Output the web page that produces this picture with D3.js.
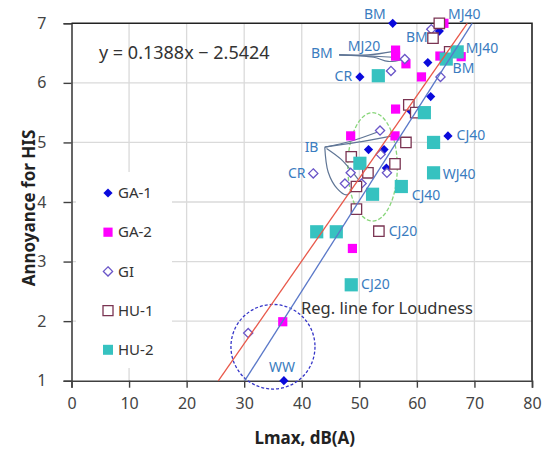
<!DOCTYPE html>
<html>
<head>
<meta charset="utf-8">
<script src="https://cdn.jsdelivr.net/npm/d3@7"></script>
<style>
  body { margin: 0; background: #ffffff; }
  svg { font-family: "Noto Sans", "DejaVu Sans", sans-serif; }
</style>
</head>
<body>
<svg id="chart" width="546" height="451"></svg>
<script>
// ---- data ----
let ga1 = [[55.8, 7.0], [63.9, 6.87], [50.1, 6.1], [61.9, 6.34], [62.4, 5.77], [58.8, 5.54],
           [65.4, 5.11], [51.6, 4.88], [54.3, 4.88], [54.7, 4.57], [36.9, 1.0]];
let ga2 = [[64.7, 7.0], [56.3, 6.55], [56.3, 6.45], [58.1, 6.32], [64.0, 6.45], [67.7, 6.44],
           [60.8, 6.1], [56.3, 5.56], [48.5, 5.11], [56.2, 5.11], [48.8, 3.22], [36.7, 1.99]];
let gi  = [[62.5, 6.9], [57.9, 6.4], [55.5, 6.2], [64.1, 6.1], [53.6, 5.2], [53.7, 4.8],
           [42.0, 4.48], [48.5, 4.49], [54.8, 4.49], [47.5, 4.31], [50.4, 4.31], [30.7, 1.8]];
let hu1 = [[63.9, 7.0], [62.8, 6.75], [65.7, 6.52], [58.6, 5.63], [59.8, 5.5], [58.1, 5.0],
           [48.6, 4.76], [56.2, 4.64], [51.5, 4.49], [49.5, 4.26], [49.5, 3.88], [53.4, 3.51]];
let hu2 = [[53.3, 6.12], [65.1, 6.4], [67.0, 6.52], [61.3, 5.5], [62.9, 5.0], [50.1, 4.65],
           [62.9, 4.49], [57.3, 4.26], [52.3, 4.13], [42.6, 3.5], [46.0, 3.5], [48.6, 2.61]];

let seriesNames = ["GA-1", "GA-2", "GI", "HU-1", "HU-2"];
let xTicks = [0, 10, 20, 30, 40, 50, 60, 70, 80];
let yTicks = [1, 2, 3, 4, 5, 6, 7];

// trend lines: [slope, intercept, x start, x end]
let redTrend  = [0.1388, -2.5424, 25.5, 68.75];
let blueTrend = [0.1519, -3.572, 30.1, 69.6];
let equationText = "y = 0.1388x \u2212 2.5424";
let loudnessText = "Reg. line for Loudness";

// point labels [text, x, y] (data units, left edge / middle)
let pointLabels = [
  ["BM", 50.8, 7.16], ["MJ40", 65.4, 7.16], ["BM", 58.1, 6.76], ["MJ20", 48.0, 6.61],
  ["BM", 41.6, 6.50], ["MJ40", 68.5, 6.59], ["BM", 66.2, 6.25], ["CR", 45.7, 6.12],
  ["CJ40", 66.9, 5.12], ["IB", 40.5, 4.92], ["CR", 37.6, 4.49], ["WJ40", 64.5, 4.47],
  ["CJ40", 59.1, 4.12], ["CJ20", 55.1, 3.51], ["CJ20", 50.3, 2.62], ["WW", 34.3, 1.23]
];

// ---- layout ----
let chart = d3.select("#chart");

let x = d3.scaleLinear()
    .domain([0, 80])
    .range([71.5, 532]);
let y = d3.scaleLinear()
    .domain([1, 7])
    .range([380.7, 23.3]);

// gridlines
chart.append("g")
    .selectAll("line")
    .data(xTicks.slice(1, -1))
    .enter().append("line")
    .attr("x1", d => x(d)).attr("x2", d => x(d))
    .attr("y1", y(7)).attr("y2", y(1))
    .attr("stroke", "#dadada").attr("stroke-width", 1.3);
chart.append("g")
    .selectAll("line")
    .data(yTicks.slice(1, -1))
    .enter().append("line")
    .attr("x1", x(0)).attr("x2", x(80))
    .attr("y1", d => y(d)).attr("y2", d => y(d))
    .attr("stroke", "#dadada").attr("stroke-width", 1.3);

// axes
var xAxis = d3.axisBottom(x).tickValues(xTicks).tickSize(7).tickPadding(10);
var xAxisGroup = chart.append("g")
    .attr("transform", "translate(0," + y(1) + ")")
    .call(xAxis);
var yAxis = d3.axisLeft(y).tickValues(yTicks).tickFormat(d3.format("d")).tickSize(8).tickPadding(17);
var yAxisGroup = chart.append("g")
    .attr("transform", "translate(" + x(0) + ",0)")
    .call(yAxis);
[xAxisGroup, yAxisGroup].forEach(g => {
  g.select(".domain").attr("stroke", "#404040").attr("stroke-width", 1.6);
  g.selectAll(".tick line").attr("stroke", "#404040").attr("stroke-width", 1.4);
  g.selectAll(".tick text")
    .style("font-family", "Noto Sans")
    .style("font-size", "16px")
    .attr("fill", "#444");
});

// top + right border
chart.append("path")
    .attr("d", "M" + x(0) + "," + y(7) + "H" + x(80) + "V" + y(1))
    .attr("fill", "none")
    .attr("stroke", "#222")
    .attr("stroke-width", 1.6);

// axis titles
chart.append("text")
    .text("Lmax, dB(A)")
    .attr("x", (x(0) + x(80)) / 2 + 3)
    .attr("y", 444)
    .style("font-size", "17px")
    .attr("font-weight", "bold")
    .style("text-anchor", "middle")
    .style("fill", "#222");
chart.append("text")
    .text("Annoyance for HIS")
    .attr("transform", "rotate(-90)")
    .attr("x", -208)
    .attr("y", 35)
    .style("font-size", "17px")
    .attr("font-weight", "bold")
    .style("text-anchor", "middle")
    .style("fill", "#222");

// annotation shapes (data units)
var curve = d3.line().x(d => x(d[0])).y(d => y(d[1])).curve(d3.curveCatmullRom);

chart.append("ellipse")
    .attr("cx", x(35.0)).attr("cy", y(1.57))
    .attr("rx", x(42.3) - x(35.0)).attr("ry", y(1.57) - y(2.28))
    .attr("fill", "none").attr("stroke", "#3535c8")
    .attr("stroke-width", 1.3).attr("stroke-dasharray", "3,2");
chart.append("ellipse")
    .attr("cx", x(52.3)).attr("cy", y(4.59))
    .attr("rx", x(56.6) - x(52.3)).attr("ry", y(4.59) - y(5.5))
    .attr("fill", "none").attr("stroke", "#88d67a")
    .attr("stroke-width", 1.3).attr("stroke-dasharray", "4,2");

var callouts = [
  [[44.0, 4.92], [48.5, 5.02], [53.3, 5.18]],
  [[44.0, 4.92], [49.5, 5.0], [55.8, 5.11]],
  [[44.0, 4.92], [44.6, 4.5], [46.2, 4.22], [47.8, 4.12], [49.3, 4.28]],
  [[44.3, 4.9], [46.8, 4.72], [49.0, 4.48], [49.8, 4.38]],
  [[46.5, 6.47], [51.5, 6.47], [56.0, 6.53]],
  [[46.5, 6.47], [52.0, 6.45], [55.9, 6.43]],
  [[46.5, 6.47], [52.5, 6.43], [55.0, 6.36], [57.5, 6.39]]
];
chart.append("g")
    .selectAll("path")
    .data(callouts)
    .enter().append("path")
    .attr("d", curve)
    .attr("fill", "none")
    .attr("stroke", "#5f7595")
    .attr("stroke-width", 1.2);

// legend box
chart.append("rect")
    .attr("x", 76).attr("y", 172)
    .attr("width", 96).attr("height", 196)
    .attr("fill", "#ffffff");

// markers
function diamond(r) { return "M0," + (-r) + "L" + r + ",0L0," + r + "L" + (-r) + ",0Z"; }
function square(h)  { return "M" + (-h) + "," + (-h) + "H" + h + "V" + h + "H" + (-h) + "Z"; }

let styles = [
  { path: diamond(4.6), fill: "#0a0adc", stroke: "none", sw: 0 },
  { path: square(4.6),  fill: "#ff00ff", stroke: "none", sw: 0 },
  { path: diamond(4.6), fill: "#ffffff", stroke: "#6a55c8", sw: 1.3 },
  { path: square(5.2),  fill: "#ffffff", stroke: "#7a3452", sw: 1.3 },
  { path: square(6.6),  fill: "#36c2c0", stroke: "none", sw: 0 }
];
let allSeries = [ga1, ga2, gi, hu1, hu2];

allSeries.forEach(function(data, i) {
  chart.append("g")
    .selectAll("path")
    .data(data)
    .enter().append("path")
    .attr("transform", d => "translate(" + x(d[0]) + "," + y(d[1]) + ")")
    .attr("d", styles[i].path)
    .attr("fill", styles[i].fill)
    .attr("stroke", styles[i].stroke)
    .attr("stroke-width", styles[i].sw);
});

// trend lines
[[redTrend, "#e8584a"], [blueTrend, "#5a78c8"]].forEach(function(t) {
  let p = t[0];
  chart.append("line")
    .attr("x1", x(p[2])).attr("y1", y(p[0] * p[2] + p[1]))
    .attr("x2", x(p[3])).attr("y2", y(p[0] * p[3] + p[1]))
    .attr("stroke", t[1])
    .attr("stroke-width", 1.3);
});

// point labels
chart.append("g")
    .selectAll("text")
    .data(pointLabels)
    .enter().append("text")
    .text(d => d[0])
    .attr("x", d => x(d[1]))
    .attr("y", d => y(d[2]))
    .attr("dy", "0.35em")
    .style("font-size", "14px")
    .style("fill", "#3a7cc0");

chart.append("text")
    .text(equationText)
    .attr("x", 99).attr("y", 53)
    .attr("dy", "0.35em")
    .style("font-size", "18px")
    .style("fill", "#333");
chart.append("text")
    .text(loudnessText)
    .attr("x", 301).attr("y", 308)
    .attr("dy", "0.35em")
    .style("font-size", "16.5px")
    .style("fill", "#333");

// legend
let legend = chart.append("g")
    .selectAll("g")
    .data(seriesNames)
    .enter().append("g")
    .attr("transform", (d, i) => "translate(108," + (193 + i * 39.2) + ")");
legend.append("path")
    .attr("d", (d, i) => i >= 3 ? square(5) : styles[i].path)
    .attr("fill", (d, i) => styles[i].fill)
    .attr("stroke", (d, i) => styles[i].stroke)
    .attr("stroke-width", (d, i) => styles[i].sw);
legend.append("text")
    .text(d => d)
    .attr("x", 10)
    .attr("dy", "0.35em")
    .style("font-size", "15px")
    .style("fill", "#333");
</script>
</body>
</html>
